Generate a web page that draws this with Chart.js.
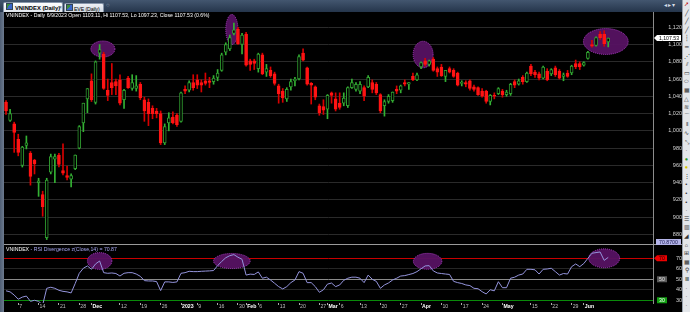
<!DOCTYPE html>
<html>
<head>
<meta charset="utf-8">
<script src="https://cdn.jsdelivr.net/npm/chart.js@4.4.0/dist/chart.umd.min.js"></script>
<style>
    body { margin: 0; width: 690px; height: 312px; background: #000; overflow: hidden; position: relative; font-family: "Liberation Sans", Arial, sans-serif; }
    #tabs { position: absolute; left: 0; top: 0; width: 690px; height: 12px; background: linear-gradient(#43566f, #25354b); }
    .tab { position: absolute; top: 2px; height: 10px; box-sizing: border-box; border: 1px solid #8796aa; border-bottom: none; border-radius: 2px 2px 0 0; background: linear-gradient(#ffffff, #dfe5ec); font-size: 5.8px; line-height: 9px; color: #000; white-space: nowrap; overflow: hidden; }
    .tab .ico { display: inline-block; width: 5px; height: 5px; margin: 0 2px 0 2px; vertical-align: -0.5px; background: linear-gradient(135deg, #3c8f3c 0 40%, #3a66c9 40% 100%); border: 0.5px solid #345; }
    #tab1 { left: 3px; width: 60px; font-weight: bold; }
    #tab2 { left: 64px; width: 40px; top: 3px; height: 9px; background: linear-gradient(#eef1f5, #cfd7e1); line-height: 8px; font-size: 5.2px; letter-spacing: -0.1px; }
    #tab2 .ico { margin: 0 1px 0 1px; }
    #tabx { position: absolute; left: 55px; top: 0; font-size: 5px; color: #444; font-weight: normal; }
    #tabo { position: absolute; left: 106px; top: 2px; font-size: 6px; color: #9aa7b8; }
    #nav { position: absolute; left: 664px; top: 1px; font-size: 6px; color: #d7dee6; letter-spacing: 1px; }
    #leftbar { position: absolute; left: 0; top: 12px; width: 4px; height: 300px; background: linear-gradient(90deg, #4f5e74, #6c7a8e); }
    #toolbar { position: absolute; left: 682px; top: 0; width: 8px; height: 312px; background: #e3e6ea; border-left: 1px solid #98a1ad; box-sizing: border-box; }
    #toolbar span { display: block; height: 8.6px; font-size: 5.5px; line-height: 8.6px; text-align: center; color: #333; }
    #price-wrap { position: absolute; left: 4px; top: 12px; }
    #rsi-wrap { position: absolute; left: 4px; top: 236px; }
    .title { position: absolute; left: 6px; font-size: 5.2px; color: #fff; white-space: nowrap; }
    #price-title { top: 12px; }
    #rsi-title { top: 246px; }
    #rsi-title .v { color: #a6a6f0; }
</style>
</head>
<body>
<div id="tabs">
    <div class="tab" id="tab1"><span class="ico"></span>VNINDEX (Daily)<span id="tabx">×</span></div>
    <div class="tab" id="tab2"><span class="ico"></span>EVE (Daily)</div>
    <span id="tabo">○</span>
    <span id="nav">◂▸▾</span>
</div>
<div id="leftbar"></div>
<div id="price-wrap"><canvas id="price-chart" width="678" height="232"></canvas></div>
<div id="rsi-wrap"><canvas id="rsi-chart" width="678" height="76"></canvas></div>
<div class="title" id="price-title">VNINDEX - Daily 6/9/2023 Open 1103.11, Hi 1107.53, Lo 1097.23, Close 1107.53 (0.6%)</div>
<div class="title" id="rsi-title">VNINDEX <span class="v">- RSI Divergence z(Close,14) = 70.87</span></div>
<div id="toolbar"></div>
<script>
// VNINDEX daily, 2 Nov 2022 .. 9 Jun 2023 (one entry per trading day)
const opens = [
    1033, 1012, 1008, 990, 960, 983, 974, 966, 940, 926,
    876, 952, 967, 972, 954, 948, 944, 956, 980, 1009,
    1037, 1058, 1033, 1090, 1089, 1047, 1056, 1057, 1059, 1036,
    1061, 1049, 1049, 1054, 1036, 1033, 1026, 1023, 1020, 986,
    1009, 1016, 1018, 1011, 1048, 1047, 1056, 1059, 1056, 1058,
    1058, 1057, 1062, 1070, 1091, 1095, 1113, 1118, 1100, 1112,
    1081, 1081, 1072, 1088, 1068, 1070, 1066, 1052, 1046, 1037,
    1051, 1058, 1060, 1090, 1073, 1055, 1051, 1029, 1028, 1025,
    1044, 1037, 1032, 1032, 1029, 1050, 1048, 1046, 1050, 1051,
    1056, 1054, 1042, 1029, 1034, 1035, 1048, 1047, 1056, 1054,
    1063, 1059, 1074, 1081, 1077, 1083, 1072, 1074, 1063, 1072,
    1070, 1067, 1055, 1056, 1058, 1051, 1050, 1046, 1046, 1034,
    1041, 1043, 1046, 1042, 1043, 1057, 1054, 1062, 1057, 1075,
    1068, 1066, 1061, 1069, 1066, 1073, 1069, 1063, 1067, 1067,
    1078, 1078, 1076, 1084, 1100, 1099, 1112, 1112, 1103.11
];
const highs = [
    1035, 1025, 1010, 996, 982, 994, 976, 967, 945, 930,
    945, 973, 973, 974, 985, 959, 950, 972, 1006, 1032,
    1049, 1066, 1081, 1100, 1091, 1060, 1078, 1060, 1065, 1048,
    1063, 1065, 1064, 1056, 1039, 1037, 1029, 1026, 1023, 1008,
    1021, 1022, 1020, 1045, 1052, 1058, 1065, 1065, 1059, 1067,
    1062, 1064, 1071, 1090, 1102, 1111, 1125, 1120, 1113, 1114,
    1083, 1083, 1090, 1090, 1077, 1074, 1068, 1054, 1049, 1050,
    1060, 1062, 1088, 1095, 1074, 1056, 1052, 1031, 1036, 1042,
    1045, 1044, 1044, 1044, 1051, 1060, 1056, 1057, 1052, 1064,
    1059, 1056, 1043, 1036, 1042, 1045, 1052, 1053, 1059, 1056,
    1067, 1067, 1080, 1084, 1082, 1085, 1074, 1077, 1070, 1074,
    1072, 1068, 1058, 1058, 1059, 1053, 1051, 1049, 1047, 1042,
    1044, 1050, 1048, 1047, 1055, 1059, 1060, 1064, 1068, 1077,
    1070, 1068, 1075, 1072, 1072, 1075, 1071, 1067, 1070, 1076,
    1082, 1080, 1080, 1092, 1105, 1109, 1115, 1116, 1107.53
];
const lows = [
    1019, 1011, 975, 971, 958, 979, 937, 950, 924, 901,
    874, 950, 940, 958, 949, 943, 935, 955, 979, 999,
    1021, 1034, 1031, 1083, 1048, 1035, 1042, 1042, 1030, 1026,
    1049, 1047, 1046, 1036, 1011, 1006, 1014, 1015, 984, 984,
    1000, 1008, 1005, 1010, 1043, 1045, 1047, 1049, 1045, 1053,
    1050, 1054, 1058, 1069, 1088, 1093, 1111, 1100, 1089, 1075,
    1070, 1071, 1068, 1065, 1063, 1062, 1053, 1032, 1033, 1034,
    1047, 1052, 1059, 1081, 1053, 1031, 1036, 1018, 1019, 1014,
    1032, 1023, 1025, 1029, 1027, 1049, 1046, 1043, 1035, 1050,
    1044, 1042, 1021, 1017, 1032, 1033, 1043, 1044, 1052, 1048,
    1058, 1058, 1072, 1075, 1075, 1069, 1063, 1063, 1057, 1067,
    1062, 1052, 1052, 1051, 1047, 1046, 1041, 1039, 1032, 1030,
    1037, 1042, 1039, 1040, 1041, 1050, 1053, 1054, 1056, 1064,
    1062, 1059, 1060, 1058, 1064, 1063, 1060, 1058, 1062, 1065,
    1072, 1071, 1075, 1083, 1097, 1098, 1106, 1098, 1097.23
];
const closes = [
    1023, 1020, 998, 975, 981, 986, 947, 962, 942, 912,
    943, 970, 970, 961, 951, 946, 948, 972, 1005, 1032,
    1049, 1036, 1080, 1094, 1049, 1041, 1050, 1052, 1032, 1047,
    1050, 1056, 1052, 1038, 1023, 1020, 1020, 1020, 986, 1005,
    1015, 1009, 1007, 1044, 1046, 1056, 1050, 1053, 1053, 1055,
    1056, 1061, 1067, 1088, 1100, 1108, 1117, 1101, 1111, 1076,
    1077, 1078, 1089, 1066, 1072, 1064, 1055, 1043, 1038, 1048,
    1057, 1060, 1086, 1082, 1054, 1053, 1039, 1021, 1024, 1041,
    1041, 1025, 1027, 1038, 1050, 1056, 1054, 1054, 1040, 1062,
    1048, 1044, 1023, 1034, 1040, 1045, 1046, 1052, 1054, 1056,
    1059, 1065, 1079, 1077, 1081, 1070, 1068, 1064, 1070, 1068,
    1063, 1053, 1056, 1054, 1049, 1048, 1042, 1040, 1034, 1041,
    1040, 1049, 1042, 1045, 1054, 1053, 1058, 1057, 1067, 1066,
    1065, 1061, 1074, 1059, 1071, 1065, 1061, 1065, 1063, 1075,
    1074, 1074, 1079, 1091, 1098, 1108, 1108, 1101, 1107.53
];
const rsiValues = [
    39, 38, 35, 31, 33, 34, 29, 30, 29, 25.5,
    41.4, 42.4, 41.4, 39.5, 38.5, 38, 37, 46, 55.7, 60.5,
    62.7, 59.5, 64.6, 67.4, 56.3, 55.7, 56, 55.5, 53.1, 55.7,
    56.3, 56.3, 55, 52.8, 48.7, 48.4, 48.4, 47.8, 39.2, 47.5,
    47.5, 47, 47.5, 55.7, 56.3, 57.6, 57.3, 57.3, 57.6, 57.8,
    58, 58.3, 63, 67, 70.5, 72.5, 73.5, 71, 69, 54,
    54.9, 54.6, 57, 51, 52, 49.3, 46.2, 43, 40.8, 43,
    46.8, 49.3, 57.3, 55.7, 46.8, 46.8, 43, 37.6, 40, 45.4,
    46.4, 43, 44.6, 49, 51, 52, 52, 51, 46.8, 54,
    50, 48, 41.4, 44.6, 46.5, 49.3, 51, 53.1, 53.5, 54.5,
    55.5, 57.3, 60, 62.7, 63, 58, 56, 55.5, 55, 54.6,
    48, 46.8, 46, 44.6, 44, 41.4, 41, 38.2, 36, 40,
    39, 47.7, 42, 42, 51, 52, 54, 55, 59.5, 59.5,
    59, 55, 59.5, 59.8, 60.5, 57.3, 54, 55.5, 55, 62,
    64.6, 62, 65, 70, 74.8, 75.4, 76, 68, 70.87
];

// x-axis labels: trading-day index and text
const tickIndex = [3, 8, 13, 18, 21, 28, 33, 38, 43, 47, 52, 57, 59, 62, 67, 72, 77, 79, 82, 87, 92, 97, 102, 107, 112, 117, 122, 129, 134, 139, 142];
const tickText = ['7', '14', '21', '28', 'Dec', '12', '19', '26', '2023', '9', '16', '30', 'Feb', '6', '13', '20', '27', 'Mar', '6', '13', '20', '27', 'Apr', '10', '17', '24', 'May', '15', '22', '29', 'Jun'];
const rsiTicks = [30, 40, 50, 60, 70];

// hand-drawn highlight ellipses: [center index, center value, radius in days, radius in value]
const priceCircles = [[23.8, 1094.8, 2.95, 9.3], [55.5, 1117.4, 1.5, 17.4], [102.5, 1088.4, 2.45, 15.4], [147.4, 1103.5, 5.5, 15]];
const rsiCircles = [[23, 67.4, 3, 8], [55.5, 67.4, 4.5, 7.2], [103.6, 67.1, 3.5, 7.6], [147, 70, 3.8, 9]];

const FONT = 'Liberation Sans';
const X_MAX = 159;

const isUp = closes.map((c, i) => c >= opens[i]);

function ellipsePlugin(list) {
    return {
        id: 'highlight',
        beforeDatasetsDraw(chart) {
            const { ctx, scales: { x, y }, chartArea } = chart;
            ctx.save();
            ctx.beginPath();
            ctx.rect(chartArea.left, chartArea.top, chartArea.right - chartArea.left, chartArea.bottom - chartArea.top);
            ctx.clip();
            list.forEach(([cx, cy, rx, ry]) => {
                const px = x.getPixelForValue(cx);
                const py = y.getPixelForValue(cy);
                const prx = Math.abs(x.getPixelForValue(cx + rx) - px);
                const pry = Math.abs(y.getPixelForValue(cy + ry) - py);
                ctx.beginPath();
                ctx.ellipse(px, py, prx, pry, 0, 0, Math.PI * 2);
                ctx.fillStyle = 'rgba(86, 18, 98, 0.95)';
                ctx.fill();
                ctx.setLineDash([1, 1]);
                ctx.strokeStyle = '#a83cc0';
                ctx.lineWidth = 1;
                ctx.stroke();
            });
            ctx.restore();
        }
    };
}

function drawTag(ctx, left, y, w, text, bg, fg, arrow) {
    ctx.save();
    ctx.beginPath();
    if (arrow) {
        ctx.moveTo(left - 3, y);
        ctx.lineTo(left, y - 3);
    } else {
        ctx.moveTo(left, y - 3);
    }
    ctx.lineTo(left + w, y - 3);
    ctx.lineTo(left + w, y + 3);
    ctx.lineTo(left, y + 3);
    ctx.closePath();
    ctx.fillStyle = bg;
    ctx.fill();
    ctx.fillStyle = fg;
    ctx.font = `5.2px "${FONT}"`;
    ctx.textAlign = 'center';
    ctx.textBaseline = 'middle';
    ctx.fillText(text, left + w / 2, y + 0.3);
    ctx.restore();
}

const lastPricePlugin = {
    id: 'lastPrice',
    afterDraw(chart) {
        const { ctx, scales: { y }, chartArea } = chart;
        const last = closes[closes.length - 1];
        const py = y.getPixelForValue(last);
        drawTag(ctx, chartArea.right + 4, py, 24, last.toLocaleString('en-US', { minimumFractionDigits: 2 }), '#ffffff', '#000', true);
    }
};

const rsiTagPlugin = {
    id: 'rsiTags',
    afterDraw(chart) {
        const { ctx, scales: { y }, chartArea } = chart;
        const left = chartArea.right + 3;
        // pane separator
        ctx.save();
        ctx.strokeStyle = '#9a9a9a';
        ctx.lineWidth = 1;
        ctx.beginPath();
        ctx.moveTo(0, Math.round(chartArea.top) + 0.5);
        ctx.lineTo(chart.width, Math.round(chartArea.top) + 0.5);
        ctx.stroke();
        ctx.restore();
        drawTag(ctx, left + 1, y.getPixelForValue(70), 10, '70', '#ee0000', '#200000', true);
        drawTag(ctx, left + 1, y.getPixelForValue(50), 10, '50', '#5a5a5a', '#e0e0e0', false);
        drawTag(ctx, left + 1, y.getPixelForValue(30), 10, '30', '#12a012', '#ffffff', false);
        drawTag(ctx, left, chartArea.top - 2, 25, '70.8700', '#b4b4e8', '#1a1a50', false);
    }
};

function fixAxisWidth(w) {
    return (scale) => {
        scale.width = w;
        scale.paddingTop = 0;
        scale.paddingBottom = 0;
    };
}

const priceChart = new Chart(document.getElementById('price-chart'), {
    type: 'bar',
    data: {
        datasets: [
            {
                label: 'range',
                data: highs.map((h, i) => ({ x: i, y: [lows[i], h] })),
                backgroundColor: isUp.map(u => u ? '#33b233' : '#d80000'),
                barThickness: 1,
                grouped: false,
                order: 2
            },
            {
                label: 'body',
                data: opens.map((o, i) => ({ x: i, y: [o, closes[i]] })),
                backgroundColor: isUp.map(u => u ? '#000000' : '#ff1414'),
                borderColor: isUp.map(u => u ? '#2f9c2f' : '#ff1414'),
                borderWidth: 1,
                borderSkipped: false,
                barThickness: 3,
                minBarLength: 1,
                grouped: false,
                order: 1
            }
        ]
    },
    options: {
        responsive: false,
        animation: false,
        layout: { padding: 0 },
        plugins: { legend: { display: false }, tooltip: { enabled: false } },
        scales: {
            x: { type: 'linear', min: -0.5, max: X_MAX, offset: false, display: false },
            y: {
                position: 'right',
                min: 868.8,
                max: 1137.7,
                ticks: {
                    stepSize: 20,
                    includeBounds: false,
                    color: '#d4d4d4',
                    padding: 10,
                    crossAlign: 'far',
                    font: { size: 5.5, family: FONT },
                    callback: v => v.toLocaleString('en-US')
                },
                grid: { color: '#2a2a2a', drawTicks: false },
                border: { display: true, color: '#8c8c8c' },
                afterFit: fixAxisWidth(29)
            }
        }
    },
    plugins: [ellipsePlugin(priceCircles), lastPricePlugin]
});

const rsiChart = new Chart(document.getElementById('rsi-chart'), {
    type: 'line',
    data: {
        datasets: [{
            label: 'RSI',
            data: rsiValues.map((v, i) => ({ x: i, y: v })),
            borderColor: '#9494dc',
            borderWidth: 1,
            pointRadius: 0,
            tension: 0
        }]
    },
    options: {
        responsive: false,
        animation: false,
        layout: { padding: { top: 8 } },
        plugins: { legend: { display: false }, tooltip: { enabled: false } },
        scales: {
            x: {
                type: 'linear',
                min: -0.5,
                max: X_MAX,
                afterBuildTicks: s => { s.ticks = tickIndex.map(v => ({ value: v })); },
                ticks: {
                    autoSkip: false,
                    maxRotation: 0,
                    align: 'start',
                    padding: -2,
                    color: c => isNaN(Number(tickText[c.index])) || tickText[c.index] === '2023' ? '#ffffff' : '#bdbdbd',
                    font: c => ({ size: 5.2, family: FONT, weight: (isNaN(Number(tickText[c.index])) || tickText[c.index] === '2023') ? 'bold' : 'normal' }),
                    callback: (v, i) => '\u2009' + tickText[i]
                },
                grid: { drawOnChartArea: false, tickLength: 2, color: '#aaaaaa', offset: false },
                border: { display: false },
                afterFit: s => { s.height = 9; s.paddingLeft = 0; s.paddingRight = 0; }
            },
            y: {
                position: 'right',
                min: 27.4,
                max: 83.6,
                afterBuildTicks: s => { s.ticks = rsiTicks.map(v => ({ value: v })); },
                ticks: {
                    color: '#d4d4d4',
                    padding: 18,
                    crossAlign: 'far',
                    font: { size: 5.5, family: FONT }
                },
                grid: {
                    drawTicks: false,
                    color: c => ({ 70: '#c80000', 50: '#8a8a8a', 30: '#0a8a0a' })[c.tick && c.tick.value] || '#262626',
                    borderDash: c => (c.tick && c.tick.value === 50) ? [1, 2] : []
                },
                border: { display: true, color: '#8c8c8c' },
                afterFit: fixAxisWidth(29)
            }
        }
    },
    plugins: [ellipsePlugin(rsiCircles), rsiTagPlugin]
});

// right-hand drawing toolbar
const toolIcons = ['➚', '╱', '╱', '╱', '┆', '━', '⋰', '⫽', '▭', '⬭', '▦', '△', '≋', '⌒', '⦀', '∿', '⤡', '·', '●', '●', '⋮', '▪', '▪', '▪', '·', '☰', '▥', '◢', '⌂', '⊞', '▦', '⚲', 'Ⅲ', '·', '·', '·'];
const toolColors = { 18: '#2a9a2a', 19: '#d8c800', 0: '#c00000' };
document.getElementById('toolbar').innerHTML = toolIcons
    .map((g, i) => `<span style="color:${toolColors[i] || '#333'}">${g}</span>`)
    .join('');
</script>
</body>
</html>
